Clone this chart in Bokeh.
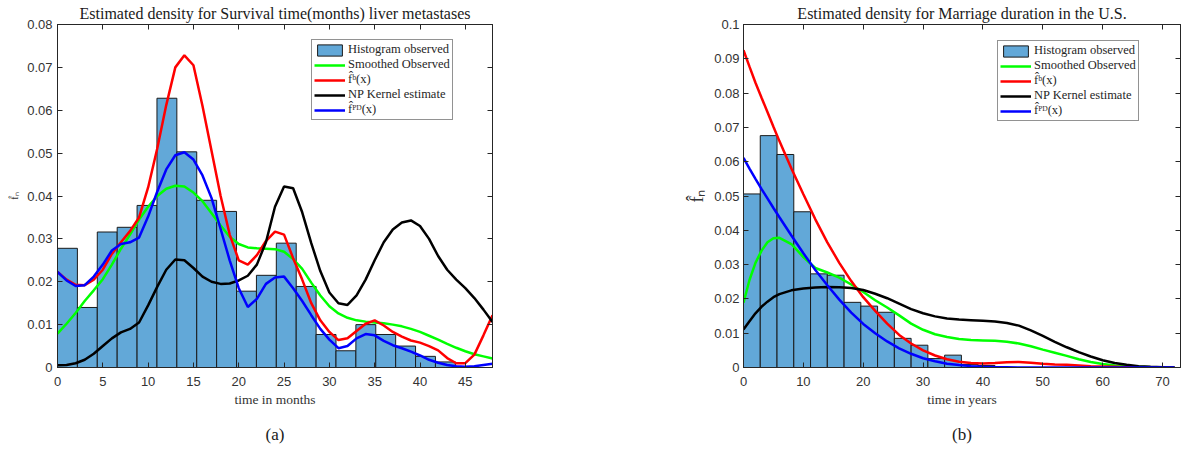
import numpy as np
from bokeh.plotting import figure
from bokeh.models import (ColumnDataSource, Legend, LegendItem, LinearAxis,
                          FixedTicker, Range1d, Title, CustomJSTickFormatter)
from bokeh.layouts import row
from bokeh.embed import file_html
from bokeh.resources import INLINE

# ---------------- Panel (a): survival time (months), liver metastases ----------------
surv_bin_width = 2.195
surv_hist = [0.0278, 0.0140, 0.0316, 0.0327, 0.0378, 0.0628, 0.0503, 0.0390, 0.0364, 0.0178,
             0.0215, 0.0290, 0.0189, 0.0077, 0.0039, 0.0100, 0.0077, 0.0050, 0.0026, 0.0013]
surv_x = list(range(0, 49))
surv_smoothed = [0.0079, 0.0102, 0.0127, 0.0155, 0.0180, 0.0206, 0.0240, 0.0277, 0.0310, 0.0345,
                 0.0375, 0.0400, 0.0417, 0.0424, 0.0422, 0.0408, 0.0388, 0.0360, 0.0331, 0.0305,
                 0.0288, 0.0280, 0.0278, 0.0277, 0.0276, 0.0270, 0.0253, 0.0230, 0.0198, 0.0168,
                 0.0143, 0.0126, 0.0116, 0.0110, 0.0107, 0.0105, 0.0103, 0.0100, 0.0096, 0.0090,
                 0.0083, 0.0074, 0.0065, 0.0055, 0.0046, 0.0038, 0.0031, 0.0026, 0.0021]
surv_fb = [0.0223, 0.0205, 0.0193, 0.0192, 0.0205, 0.0228, 0.0265, 0.0292, 0.0318, 0.0350,
           0.0420, 0.0510, 0.0612, 0.0700, 0.0728, 0.0705, 0.0610, 0.0505, 0.0400, 0.0310,
           0.0250, 0.0240, 0.0262, 0.0295, 0.0317, 0.0310, 0.0255, 0.0205, 0.0150, 0.0110,
           0.0083, 0.0064, 0.0068, 0.0085, 0.0102, 0.0110, 0.0098, 0.0083, 0.0072, 0.0063,
           0.0058, 0.0050, 0.0040, 0.0022, 0.0010, 0.0010, 0.0030, 0.0075, 0.0122]
surv_np_kernel = [0.0005, 0.0006, 0.0010, 0.0018, 0.0032, 0.0050, 0.0068, 0.0082, 0.0090, 0.0105,
                  0.0145, 0.0188, 0.0228, 0.0252, 0.0250, 0.0232, 0.0212, 0.0200, 0.0195, 0.0196,
                  0.0203, 0.0214, 0.0240, 0.0292, 0.0375, 0.0422, 0.0418, 0.0362, 0.0290, 0.0225,
                  0.0175, 0.0150, 0.0146, 0.0168, 0.0205, 0.0250, 0.0292, 0.0322, 0.0338, 0.0343,
                  0.0330, 0.0300, 0.0260, 0.0228, 0.0205, 0.0185, 0.0162, 0.0135, 0.0106]
surv_fpd = [0.0223, 0.0203, 0.0190, 0.0192, 0.0212, 0.0240, 0.0273, 0.0288, 0.0292, 0.0303,
            0.0352, 0.0410, 0.0462, 0.0495, 0.0502, 0.0485, 0.0448, 0.0395, 0.0323, 0.0250,
            0.0185, 0.0141, 0.0160, 0.0195, 0.0210, 0.0212, 0.0185, 0.0155, 0.0122, 0.0090,
            0.0065, 0.0045, 0.0050, 0.0068, 0.0078, 0.0075, 0.0062, 0.0052, 0.0045, 0.0037,
            0.0028, 0.0018, 0.0011, 0.0006, 0.0003, 0.0002, 0.0003, 0.0006, 0.0009]

# ---------------- Panel (b): marriage duration in the U.S. (years) ----------------
marr_bin_width = 2.8
marr_hist = [0.0506, 0.0676, 0.0621, 0.0454, 0.0273, 0.0269, 0.0190, 0.0179, 0.0161, 0.0085,
             0.0065, 0.0026, 0.0036, 0.0009, 0.0006]
marr_x = [0, 1, 2, 3, 4, 5, 6] + list(range(8, 73, 2))
marr_smoothed = [0.0189, 0.0255, 0.0305, 0.0340, 0.0365, 0.0377, 0.0378, 0.0360, 0.0322, 0.0290,
                 0.0277, 0.0262, 0.0242, 0.0220, 0.0196, 0.0175, 0.0152, 0.0128, 0.0110, 0.0097,
                 0.0089, 0.0083, 0.0080, 0.0079, 0.0078, 0.0075, 0.0070, 0.0062, 0.0052, 0.0043,
                 0.0034, 0.0024, 0.0016, 0.0010, 0.0006, 0.0004, 0.0002, 0.0001, 0.0000, 0.0000]
marr_fb = [0.0925, 0.0877, 0.0830, 0.0787, 0.0745, 0.0702, 0.0660, 0.0580, 0.0505, 0.0432,
           0.0365, 0.0305, 0.0252, 0.0205, 0.0165, 0.0128, 0.0095, 0.0070, 0.0050, 0.0035,
           0.0024, 0.0017, 0.0013, 0.0012, 0.0013, 0.0015, 0.0016, 0.0014, 0.0011, 0.0009,
           0.0008, 0.0006, 0.0004, 0.0003, 0.0002, 0.0001, 0.0001, 0.0000, 0.0000, 0.0000]
marr_np_kernel = [0.0111, 0.0135, 0.0158, 0.0177, 0.0192, 0.0205, 0.0214, 0.0225, 0.0230, 0.0233,
                  0.0235, 0.0234, 0.0232, 0.0226, 0.0215, 0.0202, 0.0186, 0.0170, 0.0158, 0.0149,
                  0.0143, 0.0140, 0.0138, 0.0136, 0.0134, 0.0130, 0.0122, 0.0108, 0.0092, 0.0075,
                  0.0059, 0.0045, 0.0032, 0.0021, 0.0013, 0.0008, 0.0004, 0.0002, 0.0001, 0.0000]
marr_fpd = [0.0611, 0.0580, 0.0550, 0.0521, 0.0493, 0.0465, 0.0438, 0.0385, 0.0333, 0.0284,
            0.0240, 0.0198, 0.0160, 0.0127, 0.0100, 0.0076, 0.0056, 0.0040, 0.0027, 0.0018,
            0.0011, 0.0007, 0.0004, 0.0002, 0.0001, 0.0001, 0.0000, 0.0000, 0.0000, 0.0000,
            0.0000, 0.0000, 0.0000, 0.0000, 0.0000, 0.0000, 0.0000, 0.0000, 0.0000, 0.0000]

surv_xticks = [0, 5, 10, 15, 20, 25, 30, 35, 40, 45]
surv_yticks = [0, 0.01, 0.02, 0.03, 0.04, 0.05, 0.06, 0.07, 0.08]
marr_xticks = [0, 10, 20, 30, 40, 50, 60, 70]
marr_yticks = [0, 0.01, 0.02, 0.03, 0.04, 0.05, 0.06, 0.07, 0.08, 0.09, 0.1]

legend_labels = ["Histogram observed", "Smoothed Observed", "f\u0302\u1d47(x)",
                 "NP Kernel estimate", "f\u0302\u1d3e\u1d30(x)"]

SERIF = "Liberation Serif"
SANS = "Liberation Sans"
AX = "#262626"
HIST_FILL = "#62a8d8"

yfmt_code = "var s = tick.toFixed(2); s = s.replace(/0+$/, ''); s = s.replace(/\\.$/, ''); return s;"


def tick_only_axis(ticks):
    return LinearAxis(ticker=FixedTicker(ticks=ticks), major_label_text_font_size="0px",
                      major_label_text_color=None, major_label_standoff=0,
                      major_tick_in=5, major_tick_out=0,
                      axis_line_color=AX, major_tick_line_color=AX, minor_tick_line_color=None)


def make_panel(title, title_size, xlabel, ylabel, ylabel_size, caption, x, hist, bw, sm, fb, npk, fpd,
               xmax, ymax, xticks, yticks, width, height, left, right, top, frame_h, ystand):
    bottom = height - top - frame_h
    p = figure(width=width, height=height, output_backend="svg", toolbar_location=None,
               x_range=Range1d(0, xmax), y_range=Range1d(0, ymax),
               min_border_left=left, min_border_right=right,
               min_border_top=top, min_border_bottom=bottom)
    p.title = None
    p.xgrid.visible = False
    p.ygrid.visible = False
    p.outline_line_color = AX
    p.outline_line_width = 1
    p.background_fill_color = "white"
    p.border_fill_color = "white"

    n = len(hist)
    edges = np.arange(n + 1) * bw
    hsrc = ColumnDataSource(dict(left=edges[:-1], right=edges[1:], top=hist, bottom=[0] * n))
    r_hist = p.quad(left="left", right="right", top="top", bottom="bottom", source=hsrc,
                    fill_color=HIST_FILL, line_color="#1a1a1a", line_width=1)
    csrc = ColumnDataSource(dict(x=x, sm=sm, fb=fb, npk=npk, fpd=fpd))
    r_sm = p.line("x", "sm", source=csrc, line_color="#00ff00", line_width=2.5)
    r_fb = p.line("x", "fb", source=csrc, line_color="#ff0000", line_width=2.5)
    r_np = p.line("x", "npk", source=csrc, line_color="#000000", line_width=2.5)
    r_pd = p.line("x", "fpd", source=csrc, line_color="#0000ff", line_width=2.5)

    xa = p.xaxis[0]
    xa.ticker = FixedTicker(ticks=xticks)
    ya = p.yaxis[0]
    ya.ticker = FixedTicker(ticks=yticks)
    ya.formatter = CustomJSTickFormatter(code=yfmt_code)
    for ax in (xa, ya):
        ax.axis_line_color = AX
        ax.major_tick_line_color = AX
        ax.major_tick_in = 5
        ax.major_tick_out = 0
        ax.minor_tick_line_color = None
        ax.major_label_text_font = SANS
        ax.major_label_text_font_size = "13px"
        ax.major_label_text_color = "#333333"
        ax.axis_label_text_font = SERIF
        ax.axis_label_text_font_style = "normal"
        ax.axis_label_text_color = "#333333"
    xa.major_label_standoff = 9
    ya.major_label_standoff = ystand
    xa.axis_label = xlabel
    xa.axis_label_text_font_size = "13.5px"
    xa.axis_label_standoff = 3
    ya.axis_label = ylabel
    ya.axis_label_text_font_size = ylabel_size
    ya.axis_label_standoff = 4

    p.add_layout(tick_only_axis(xticks), "above")
    p.add_layout(tick_only_axis(yticks), "right")

    p.add_layout(Title(text=title, align="center", text_font=SERIF, text_font_size=title_size,
                       text_font_style="normal", text_color="#1a1a1a", standoff=5), "above")
    p.add_layout(Title(text=caption, align="center", text_font=SERIF, text_font_size="17px",
                       text_font_style="normal", text_color="#1a1a1a", standoff=26), "below")

    items = [LegendItem(label=legend_labels[0], renderers=[r_hist]),
             LegendItem(label=legend_labels[1], renderers=[r_sm]),
             LegendItem(label=legend_labels[2], renderers=[r_fb]),
             LegendItem(label=legend_labels[3], renderers=[r_np]),
             LegendItem(label=legend_labels[4], renderers=[r_pd])]
    legend = Legend(items=items, location=(254, frame_h - 18 - 79),
                    label_text_font=SERIF, label_text_font_size="12.5px", label_text_color="#262626",
                    label_height=15, glyph_height=14, glyph_width=31, label_standoff=3,
                    spacing=0, padding=2, margin=0,
                    border_line_color=AX, border_line_width=1,
                    background_fill_color="white", background_fill_alpha=1.0)
    p.add_layout(legend)
    return p


H = 456
p1 = make_panel("Estimated density for Survival time(months) liver metastases", "16px",
                "time in months", "f\u0302\u2099", "10px", "(a)", surv_x, surv_hist, surv_bin_width,
                surv_smoothed, surv_fb, surv_np_kernel, surv_fpd,
                48, 0.08, surv_xticks, surv_yticks,
                width=597, height=H, left=57, right=105, top=24, frame_h=344, ystand=5)
p2 = make_panel("Estimated density for Marriage duration in the U.S.", "16px",
                "time in years", "f\u0302\u2099", "18px", "(b)", marr_x, marr_hist, marr_bin_width,
                marr_smoothed, marr_fb, marr_np_kernel, marr_fpd,
                73, 0.1, marr_xticks, marr_yticks,
                width=584, height=H, left=146, right=1, top=24, frame_h=343, ystand=4)

layout = row(p1, p2)
open("out.html", "w").write(file_html(layout, INLINE))
